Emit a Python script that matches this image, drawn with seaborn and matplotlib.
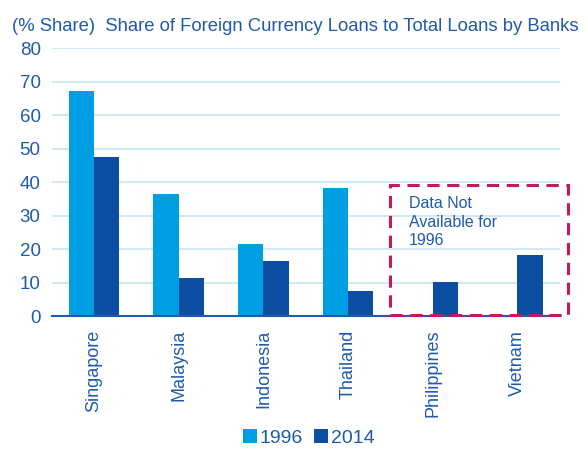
import pandas as pd
import numpy as np
import matplotlib
matplotlib.use('Agg')
import matplotlib.pyplot as plt
from matplotlib.patches import Rectangle
import seaborn as sns

# Chart data
countries = ['Singapore', 'Malaysia', 'Indonesia', 'Thailand', 'Philippines', 'Vietnam']
share_1996 = [67.3, 36.4, 21.4, 38.3, np.nan, np.nan]
share_2014 = [47.4, 11.4, 16.3, 7.4, 10.3, 18.3]
years = ['1996', '2014']
y_ticks = [0, 10, 20, 30, 40, 50, 60, 70, 80]

df = pd.DataFrame({
    'country': countries * 2,
    'year': [years[0]] * len(countries) + [years[1]] * len(countries),
    'share': share_1996 + share_2014,
})

text_blue = '#1F5BAA'
light = '#009FE3'
dark = '#0B4EA2'

sns.set_style('white')
plt.rcParams['font.family'] = ['Liberation Sans', 'DejaVu Sans']

fig = plt.figure(figsize=(5.88, 4.49), dpi=100)
ax = fig.add_axes([0.088, 0.296, 0.864, 0.597])

sns.barplot(data=df, x='country', y='share', hue='year',
            palette=[light, dark], width=0.6, saturation=1,
            linewidth=0, ax=ax, legend=True)

ax.set_ylim(0, 80)
ax.set_xlim(-0.5, 5.5)
ax.set_yticks(y_ticks)
ax.grid(axis='y', color='#C9E6F7', linewidth=1.2)
ax.set_axisbelow(True)
for side in ['left', 'right', 'top']:
    ax.spines[side].set_visible(False)
ax.spines['bottom'].set_color(text_blue)
ax.spines['bottom'].set_linewidth(1.5)

ax.set_xlabel('')
ax.set_ylabel('')
ax.tick_params(axis='y', length=0, labelsize=13.5, labelcolor=text_blue, pad=8)
ax.tick_params(axis='x', which='major', length=0, labelsize=13,
               labelcolor=text_blue, labelrotation=90, pad=10)
ax.set_xticks(np.arange(-0.5, 6, 1), minor=True)
ax.tick_params(axis='x', which='minor', length=6, width=1.5,
               color=text_blue, direction='out')

# dashed box marking missing data
box = Rectangle((3.5, 0.3), 2.1, 38.7, fill=False, edgecolor='#C8175D',
                linewidth=2.2, linestyle=(0, (4, 2.5)), clip_on=False, zorder=5)
ax.add_patch(box)
ax.text(3.72, 35.8, 'Data Not\nAvailable for\n1996', color=text_blue,
        fontsize=11.5, va='top', ha='left', linespacing=1.3)

fig.text(0.02, 0.942, '(% Share)  Share of Foreign Currency Loans to Total Loans by Banks',
         color=text_blue, fontsize=13.3, ha='left', va='center')

ax.legend_.remove()
handles, labels = ax.get_legend_handles_labels()
fig.legend(handles[:2], labels[:2], loc='center', bbox_to_anchor=(0.525, 0.025),
           ncol=2, frameon=False, fontsize=14, labelcolor=text_blue,
           handlelength=0.7, handleheight=0.7, handletextpad=0.15, columnspacing=0.6)

fig.savefig('out.png', dpi=100)
